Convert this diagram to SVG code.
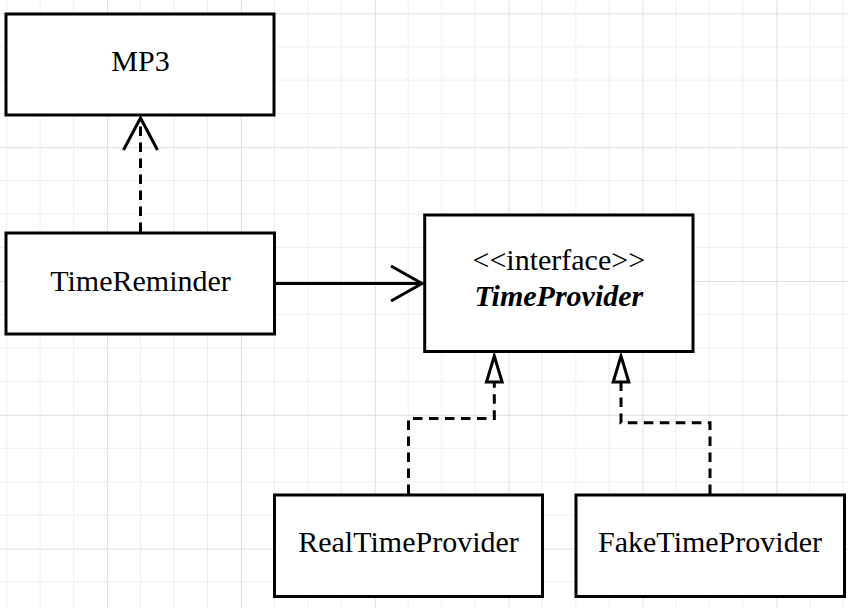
<svg xmlns="http://www.w3.org/2000/svg" width="848" height="608" viewBox="0 0 848 608">
  <defs>
    <pattern id="grid" patternUnits="userSpaceOnUse" x="107.1" y="13.3" width="133.84" height="133.84">
      <path d="M33.46 0V133.84M66.92 0V133.84M100.38 0V133.84M0 33.46H133.84M0 66.92H133.84M0 100.38H133.84" stroke="#ededed" stroke-width="1" fill="none"/>
      <path d="M0.5 0V133.84M0 0.5H133.84" stroke="#dedede" stroke-width="1" fill="none"/>
    </pattern>
    <style>
      .box { fill: #ffffff; stroke: #000000; stroke-width: 3; }
      .lbl { font-family: "Liberation Serif", "Times New Roman", serif; font-size: 30px; fill: #000000; text-anchor: middle; }
      .ital { font-style: italic; font-weight: bold; }
      .line { fill: none; stroke: #000000; stroke-width: 3; }
      .dash { stroke-dasharray: 9.5 6.5; }
      .tri { fill: #ffffff; stroke: #000000; stroke-width: 3; stroke-linejoin: miter; }
    </style>
  </defs>
  <rect x="0" y="0" width="848" height="608" fill="#ffffff"/>
  <rect x="0" y="0" width="848" height="608" fill="url(#grid)"/>

  <g id="connectors">
    <!-- TimeReminder -> MP3 dependency -->
    <path class="line dash" d="M140.5 232 V119"/>
    <path class="line" d="M123.5 150 L140.5 118 L157.5 150"/>
    <!-- TimeReminder -> TimeProvider association -->
    <path class="line" d="M275 283.5 H421"/>
    <path class="line" d="M391 266 L422 283.5 L391 301"/>
    <!-- RealTimeProvider -> TimeProvider realization -->
    <path class="line dash" d="M408.5 494 V418.5 H494.3 V383"/>
    <path class="tri" d="M494.3 356 L486.5 382 L502.1 382 Z"/>
    <!-- FakeTimeProvider -> TimeProvider realization -->
    <path class="line dash" d="M710 494 V422.7 H621 V383"/>
    <path class="tri" d="M621 356 L613.2 382 L628.8 382 Z"/>
  </g>

  <g id="MP3">
    <rect class="box" x="6" y="14" width="268" height="101"/>
    <text class="lbl" x="140.5" y="71">MP3</text>
  </g>
  <g id="TimeReminder">
    <rect class="box" x="6" y="233" width="268.5" height="101"/>
    <text class="lbl" x="140.5" y="290.5">TimeReminder</text>
  </g>
  <g id="TimeProvider">
    <rect class="box" x="424.7" y="215" width="268.3" height="136.5"/>
    <text class="lbl" x="558.8" y="270">&lt;&lt;interface&gt;&gt;</text>
    <text class="lbl ital" x="558.8" y="306">TimeProvider</text>
  </g>
  <g id="RealTimeProvider">
    <rect class="box" x="274.5" y="495" width="268" height="101.5"/>
    <text class="lbl" x="408.5" y="552">RealTimeProvider</text>
  </g>
  <g id="FakeTimeProvider">
    <rect class="box" x="576" y="495" width="268.5" height="101.5"/>
    <text class="lbl" x="710" y="552">FakeTimeProvider</text>
  </g>
</svg>
